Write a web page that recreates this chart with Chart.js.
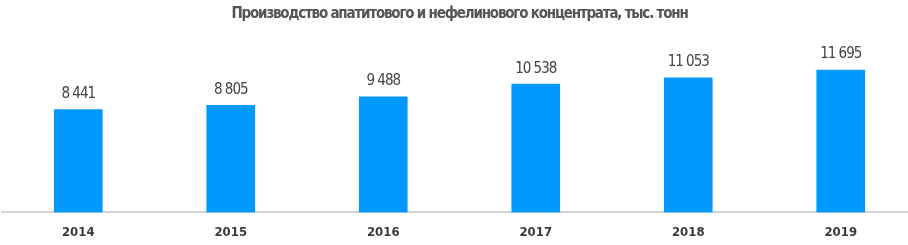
<!DOCTYPE html>
<html>
<head>
<meta charset="utf-8">
<script src="https://cdn.jsdelivr.net/npm/chart.js@4/dist/chart.umd.min.js"></script>
<style>
  html, body { margin: 0; padding: 0; background: #fff; overflow: hidden; }
  #wrap { width: 917px; height: 245px; }
</style>
</head>
<body>
<div id="wrap"><canvas id="prodChart"></canvas></div>
<script>
const years = ["2014", "2015", "2016", "2017", "2018", "2019"];
const output = [8441, 8805, 9488, 10538, 11053, 11695];
const chartTitle = "Производство апатитового и нефелинового концентрата, тыс. тонн";

const fontFamily = "'DejaVu Sans Condensed', 'DejaVu Sans', sans-serif";

function formatThousands(v) {
  return String(v).replace(/\B(?=(\d{3})+(?!\d))/g, " ");
}

// title drawn by hand so the letters can be packed a little tighter
const titlePlugin = {
  id: "tightTitle",
  afterDraw(chart) {
    const ctx = chart.ctx;
    const area = chart.chartArea;
    ctx.save();
    ctx.font = "bold 15px " + fontFamily;
    ctx.letterSpacing = "-1.2px";
    ctx.fillStyle = "#555";
    ctx.textAlign = "center";
    ctx.textBaseline = "middle";
    ctx.fillText(chartTitle, (area.left + area.right) / 2, 14);
    ctx.restore();
  },
};

// value labels above each bar
const valueLabels = {
  id: "valueLabels",
  afterDatasetsDraw(chart) {
    const ctx = chart.ctx;
    const meta = chart.getDatasetMeta(0);
    ctx.save();
    ctx.font = "15px " + fontFamily;
    ctx.letterSpacing = "-1px";
    ctx.fillStyle = "#444";
    ctx.textAlign = "center";
    ctx.textBaseline = "bottom";
    meta.data.forEach((bar, i) => {
      ctx.fillText(formatThousands(output[i]), bar.x, bar.y - 8);
    });
    ctx.restore();
  },
};

new Chart(document.getElementById("prodChart"), {
  type: "bar",
  data: {
    labels: years,
    datasets: [
      {
        data: output,
        backgroundColor: "#0099ff",
        barThickness: 48,
      },
    ],
  },
  options: {
    responsive: true,
    maintainAspectRatio: false,
    animation: false,
    layout: { padding: { left: 2, right: 0, top: 42, bottom: -7 } },
    plugins: {
      legend: { display: false },
      tooltip: { enabled: false },
      title: { display: false },
    },
    scales: {
      x: {
        grid: { display: false, drawTicks: false },
        border: { display: true, color: "#d6d6d6", width: 2 },
        ticks: {
          color: "#3a3a3a",
          padding: 12,
          font: { family: fontFamily, size: 13, weight: "bold" },
        },
      },
      y: {
        display: false,
        min: 0,
        max: 14000,
      },
    },
  },
  plugins: [valueLabels, titlePlugin],
});
</script>
</body>
</html>
